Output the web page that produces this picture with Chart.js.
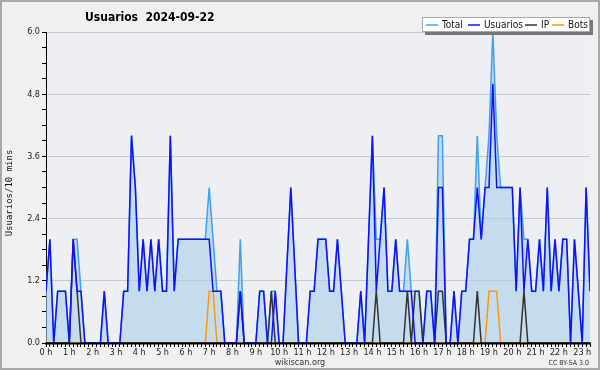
<!DOCTYPE html>
<html>
<head>
<meta charset="utf-8">
<script src="https://cdn.jsdelivr.net/npm/chart.js@4"></script>
<style>
  body { margin: 0; background: #f0f0f0; }
  canvas { display: block; }
</style>
</head>
<body>
<canvas id="chart" width="600" height="370"></canvas>
<script>
// 10 minute slots from 0:00 to 23:20
const hourLabels = ["0 h", "1 h", "2 h", "3 h", "4 h", "5 h", "6 h", "7 h", "8 h", "9 h", "10 h", "11 h",
  "12 h", "13 h", "14 h", "15 h", "16 h", "17 h", "18 h", "19 h", "20 h", "21 h", "22 h", "23 h"];
const yTickLabels = ["0.0", "1.2", "2.4", "3.6", "4.8", "6.0"];

const total = [
  1, 2, 0, 1, 1, 1, 0, 2, 2, 1,
  0, 0, 0, 0, 0, 1, 0, 0, 0, 0,
  1, 1, 4, 3, 1, 2, 1, 2, 1, 2,
  1, 1, 4, 1, 2, 2, 2, 2, 2, 2,
  2, 2, 3, 2, 1, 1, 0, 0, 0, 0,
  2, 0, 0, 0, 0, 1, 1, 0, 1, 1,
  0, 0, 1.5, 3, 1.5, 0, 0, 0, 1, 1,
  2, 2, 2, 1, 1, 2, 1, 0, 0, 0,
  0, 1, 0, 2, 4, 2, 2, 3, 1, 1,
  2, 1, 1, 2, 1, 1, 1, 0, 1, 1,
  0, 4, 4, 0, 0, 1, 0, 1, 1, 2,
  2, 4, 2, 3, 4, 6, 4, 3, 3, 3,
  3, 1, 3, 2, 2, 1, 1, 2, 1, 3,
  1, 2, 1, 2, 2, 0, 2, 1, 0, 3,
  1
];
const usuarios = [
  1, 2, 0, 1, 1, 1, 0, 2, 1, 1,
  0, 0, 0, 0, 0, 1, 0, 0, 0, 0,
  1, 1, 4, 3, 1, 2, 1, 2, 1, 2,
  1, 1, 4, 1, 2, 2, 2, 2, 2, 2,
  2, 2, 2, 1, 1, 1, 0, 0, 0, 0,
  1, 0, 0, 0, 0, 1, 1, 0, 0, 1,
  0, 0, 1.5, 3, 1.5, 0, 0, 0, 1, 1,
  2, 2, 2, 1, 1, 2, 1, 0, 0, 0,
  0, 1, 0, 2, 4, 1, 2, 3, 1, 1,
  2, 1, 1, 1, 1, 0, 0, 0, 1, 1,
  0, 3, 3, 0, 0, 1, 0, 1, 1, 2,
  2, 3, 2, 3, 3, 5, 3, 3, 3, 3,
  3, 1, 3, 1, 2, 1, 1, 2, 1, 3,
  1, 2, 1, 2, 2, 0, 2, 1, 0, 3,
  1
];
const ip = [
  0, 0, 0, 0, 0, 0, 0, 2, 1, 0,
  0, 0, 0, 0, 0, 0, 0, 0, 0, 0,
  0, 0, 0, 0, 0, 0, 0, 0, 0, 0,
  0, 0, 0, 0, 0, 0, 0, 0, 0, 0,
  0, 0, 0, 0, 0, 0, 0, 0, 0, 0,
  1, 0, 0, 0, 0, 0, 0, 0, 1, 0,
  0, 0, 0, 0, 0, 0, 0, 0, 0, 0,
  0, 0, 0, 0, 0, 0, 0, 0, 0, 0,
  0, 0, 0, 0, 0, 1, 0, 0, 0, 0,
  0, 0, 0, 1, 0, 1, 1, 0, 0, 0,
  0, 1, 1, 0, 0, 0, 0, 0, 0, 0,
  0, 1, 0, 0, 0, 0, 0, 0, 0, 0,
  0, 0, 0, 1, 0, 0, 0, 0, 0, 0,
  0, 0, 0, 0, 0, 0, 0, 0, 0, 0,
  0
];
const bots = [
  0, 0, 0, 0, 0, 0, 0, 0, 0, 0,
  0, 0, 0, 0, 0, 0, 0, 0, 0, 0,
  0, 0, 0, 0, 0, 0, 0, 0, 0, 0,
  0, 0, 0, 0, 0, 0, 0, 0, 0, 0,
  0, 0, 1, 1, 0, 0, 0, 0, 0, 0,
  0, 0, 0, 0, 0, 0, 0, 0, 0, 0,
  0, 0, 0, 0, 0, 0, 0, 0, 0, 0,
  0, 0, 0, 0, 0, 0, 0, 0, 0, 0,
  0, 0, 0, 0, 0, 0, 0, 0, 0, 0,
  0, 0, 0, 0, 0, 0, 0, 0, 0, 0,
  0, 0, 0, 0, 0, 0, 0, 0, 0, 0,
  0, 0, 0, 0, 1, 1, 1, 0, 0, 0,
  0, 0, 0, 0, 0, 0, 0, 0, 0, 0,
  0, 0, 0, 0, 0, 0, 0, 0, 0, 0,
  0
];

const FONT = "'DejaVu Sans Condensed', 'DejaVu Sans', sans-serif";

// x is minutes since midnight
const toPoints = (arr) => arr.map((v, i) => ({ x: i * 10, y: v }));

const decor = {
  id: "decor",
  beforeDraw(chart) {
    const { ctx, chartArea: a } = chart;
    ctx.save();
    ctx.fillStyle = "#f0f0f0";
    ctx.fillRect(0, 0, chart.width, chart.height);
    ctx.fillStyle = "#edeff2";
    ctx.fillRect(a.left, a.top, a.right - a.left, a.bottom - a.top);
    ctx.restore();
  },
  afterDatasetsDraw(chart) {
    // zero values sit under the x axis line
    const { ctx, chartArea: a } = chart;
    ctx.save();
    ctx.strokeStyle = "#000";
    ctx.lineWidth = 2;
    ctx.beginPath();
    ctx.moveTo(a.left - 1, a.bottom + 0.5);
    ctx.lineTo(a.right + 1, a.bottom + 0.5);
    ctx.stroke();
    ctx.restore();
  },
  afterDraw(chart) {
    const ctx = chart.ctx;
    ctx.save();

    // title
    ctx.fillStyle = "#000";
    ctx.font = "bold 12px " + FONT;
    ctx.textBaseline = "alphabetic";
    ctx.textAlign = "left";
    ctx.fillText("Usuarios  2024-09-22", 85, 21);

    // y axis title
    ctx.save();
    ctx.translate(10, 193);
    ctx.rotate(-Math.PI / 2);
    ctx.font = "9px 'DejaVu Sans Mono', monospace";
    ctx.textAlign = "center";
    ctx.textBaseline = "middle";
    ctx.fillStyle = "#111";
    ctx.fillText("Usuarios/10 mins", 0, 0);
    ctx.restore();

    // legend with shadow
    ctx.fillStyle = "#777";
    ctx.fillRect(425, 20, 168, 15);
    ctx.fillStyle = "#fff";
    ctx.fillRect(422, 17, 168, 15);
    ctx.strokeStyle = "#aaa";
    ctx.lineWidth = 1;
    ctx.strokeRect(422.5, 17.5, 167, 14);
    const items = [
      ["Total", "#3fa0f0", 426],
      ["Usuarios", "#1010ff", 468],
      ["IP", "#333333", 525],
      ["Bots", "#ff9900", 552]
    ];
    ctx.font = "10px " + FONT;
    ctx.textBaseline = "middle";
    items.forEach(([label, color, x]) => {
      ctx.strokeStyle = color;
      ctx.lineWidth = 1.5;
      ctx.beginPath();
      ctx.moveTo(x, 25);
      ctx.lineTo(x + 12, 25);
      ctx.stroke();
      ctx.fillStyle = "#111";
      ctx.fillText(label, x + 16, 25.5);
    });

    // footer
    ctx.fillStyle = "#333";
    ctx.font = "9px " + FONT;
    ctx.textAlign = "center";
    ctx.textBaseline = "alphabetic";
    ctx.fillText("wikiscan.org", 300, 365);
    ctx.font = "7px " + FONT;
    ctx.textAlign = "right";
    ctx.fillText("CC BY-SA 3.0", 589, 365);

    // outer border
    ctx.strokeStyle = "#a8a8a8";
    ctx.lineWidth = 2;
    ctx.strokeRect(1, 1, chart.width - 2, chart.height - 2);
    ctx.restore();
  }
};

const chart = new Chart(document.getElementById("chart"), {
  type: "line",
  data: {
    datasets: [
      {
        label: "Total",
        data: toPoints(total),
        borderColor: "#3fa0f0",
        backgroundColor: "rgba(170, 207, 237, 0.6)",
        fill: "origin",
        borderWidth: 1.5,
        pointRadius: 0,
        order: 4
      },
      {
        label: "Bots",
        data: toPoints(bots),
        borderColor: "#ff9900",
        borderWidth: 1.5,
        pointRadius: 0,
        fill: false,
        order: 3
      },
      {
        label: "IP",
        data: toPoints(ip),
        borderColor: "#333333",
        borderWidth: 1.5,
        pointRadius: 0,
        fill: false,
        order: 2
      },
      {
        label: "Usuarios",
        data: toPoints(usuarios),
        borderColor: "#1010ff",
        borderWidth: 1.5,
        pointRadius: 0,
        fill: false,
        order: 1
      }
    ]
  },
  options: {
    responsive: false,
    animation: false,
    layout: { padding: { top: 32, right: 10, left: 0, bottom: 0 } },
    plugins: {
      legend: { display: false },
      title: { display: false },
      tooltip: { enabled: false }
    },
    scales: {
      x: {
        type: "linear",
        min: 0,
        max: (usuarios.length - 1) * 10,
        afterBuildTicks(scale) {
          scale.ticks = usuarios.map((_, i) => ({ value: i * 10 }));
        },
        afterFit(scale) { scale.height = 27; },
        border: { color: "#000", width: 1 },
        grid: { drawOnChartArea: false, tickLength: 4, tickColor: "#000" },
        ticks: {
          autoSkip: false,
          maxRotation: 0,
          padding: 0,
          color: "#222",
          font: { family: FONT, size: 9 },
          callback: (v) => (v % 60 === 0 ? hourLabels[v / 60] : "")
        }
      },
      y: {
        min: 0,
        max: 6,
        afterBuildTicks(scale) {
          scale.ticks = [];
          for (let k = 0; k <= 20; k++) scale.ticks.push({ value: k * 0.3 });
        },
        afterFit(scale) { scale.width = 46; },
        border: { color: "#000", width: 1 },
        grid: {
          color: (c) => (c.index % 4 === 0 && c.index > 0 ? "#c8c8c8" : "rgba(0,0,0,0)"),
          tickColor: "#000",
          tickLength: 4,
          lineWidth: 1
        },
        ticks: {
          padding: 2,
          color: "#222",
          font: { family: FONT, size: 9 },
          callback: (v, i) => (i % 4 === 0 ? yTickLabels[i / 4] : "")
        }
      }
    }
  },
  plugins: [decor]
});
</script>
</body>
</html>
